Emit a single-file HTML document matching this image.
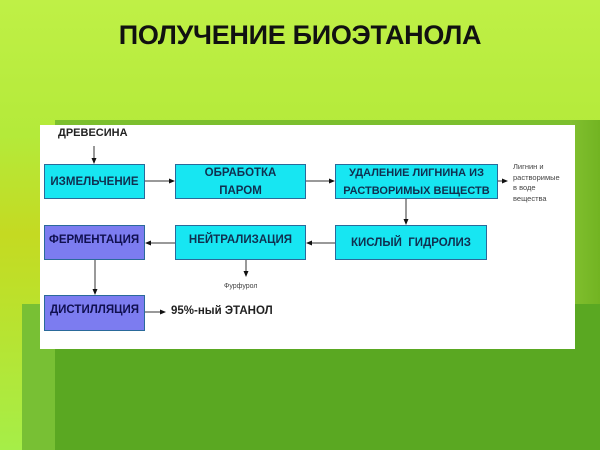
<!DOCTYPE html>
<html><head><meta charset="utf-8"><style>
body{margin:0;width:600px;height:450px;overflow:hidden;font-family:"Liberation Sans","Noto Sans CJK SC",sans-serif;}
#bg{position:absolute;left:0;top:0;width:600px;height:450px;background:linear-gradient(180deg,#bff046 0%,#b4ea3a 30%,#c4da22 52%,#bde02a 65%,#a6ee48 100%);}
.abs{position:absolute}
.box{position:absolute;border:1px solid #2a6a9a;box-sizing:border-box;display:flex;align-items:center;justify-content:center;text-align:center;font-weight:bold;font-size:11.5px;line-height:18px;color:#103050;}
.c{background:#17e6f2}
.p{background:#7c7cf0;color:#101050}
</style></head><body>
<div id="bg"></div>
<div class="abs" style="left:55px;top:120px;width:545px;height:6px;background:#7cbf2e"></div>
<div class="abs" style="left:570px;top:120px;width:30px;height:185px;background:linear-gradient(90deg,#82c030,#72b422)"></div>
<div class="abs" style="left:22px;top:304px;width:578px;height:146px;background:#5aa822"></div>
<div class="abs" style="left:22px;top:304px;width:33px;height:146px;background:#78c034"></div>
<div class="abs" style="left:0;top:20px;width:600px;text-align:center;font-size:27px;font-weight:bold;color:#111;letter-spacing:-0.3px">ПОЛУЧЕНИЕ БИОЭТАНОЛА</div>
<div class="abs" style="left:40px;top:125px;width:535px;height:224px;background:#fff"></div>
<div class="abs" style="left:58px;top:127px;font-size:11px;font-weight:bold;color:#222">ДРЕВЕСИНА</div>
<div class="box c" style="left:44px;top:164px;width:101px;height:35px">ИЗМЕЛЬЧЕНИЕ</div>
<div class="box c" style="left:175px;top:164px;width:131px;height:35px">ОБРАБОТКА<br>ПАРОМ</div>
<div class="box c" style="left:335px;top:164px;width:163px;height:35px;font-size:11px">УДАЛЕНИЕ ЛИГНИНА ИЗ<br>РАСТВОРИМЫХ ВЕЩЕСТВ</div>
<div class="box p" style="left:44px;top:225px;width:101px;height:35px;justify-content:flex-start;padding-left:4px;align-items:flex-start;padding-top:5px">ФЕРМЕНТАЦИЯ</div>
<div class="box c" style="left:175px;top:225px;width:131px;height:35px;align-items:flex-start;padding-top:5px">НЕЙТРАЛИЗАЦИЯ</div>
<div class="box c" style="left:335px;top:225px;width:152px;height:35px">КИСЛЫЙ&nbsp; ГИДРОЛИЗ</div>
<div class="box p" style="left:44px;top:295px;width:101px;height:36px;padding-bottom:6px">ДИСТИЛЛЯЦИЯ</div>
<div class="abs" style="left:171px;top:305px;font-size:11.5px;font-weight:bold;color:#222">95%-ный ЭТАНОЛ</div>
<div class="abs" style="left:224px;top:283px;font-size:7px;color:#444">Фурфурол</div>
<div class="abs" style="left:513px;top:162px;font-size:7.5px;line-height:10.5px;color:#444">Лигнин и<br>растворимые<br>в воде<br>вещества</div>
<svg class="abs" style="left:0;top:0" width="600" height="450">
<defs><marker id="a" markerWidth="6" markerHeight="6" refX="5" refY="3" orient="auto"><path d="M0,0.5 L6,3 L0,5.5Z" fill="#111"/></marker></defs>
<g stroke="#333" stroke-width="1" fill="none" marker-end="url(#a)">
<line x1="94" y1="146" x2="94" y2="163"/>
<line x1="145" y1="181" x2="174" y2="181"/>
<line x1="306" y1="181" x2="334" y2="181"/>
<line x1="498" y1="181" x2="507" y2="181"/>
<line x1="406" y1="199" x2="406" y2="224"/>
<line x1="335" y1="243" x2="307" y2="243"/>
<line x1="175" y1="243" x2="146" y2="243"/>
<line x1="246" y1="260" x2="246" y2="276"/>
<line x1="95" y1="260" x2="95" y2="294"/>
<line x1="145" y1="312" x2="165" y2="312"/>
</g></svg>
</body></html>
